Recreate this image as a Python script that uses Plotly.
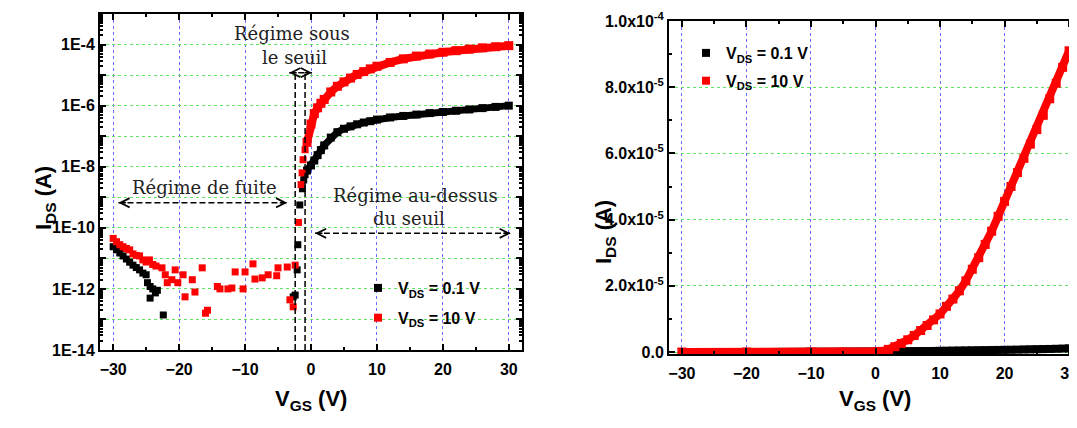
import plotly.graph_objects as go

W, H = 1077, 428
OFF = 8  # page body margin of the rendered html

# ---------------- Left panel (log scale) ----------------
# leakage + subthreshold points, VDS = 0.1 V
vgs_leak_01 = [-30, -29.5, -29, -28.5, -28, -27.5, -27, -26.5, -26, -25.5, -25,
               -24.8, -24.4, -24.0, -23.6, -23.3, -24.4, -22.4]
ids_leak_01 = [2.4e-11, 1.9e-11, 1.5e-11, 1.2e-11, 9.5e-12, 7.5e-12, 6e-12, 5e-12,
               4.2e-12, 3.3e-12, 2.9e-12, 1.6e-12, 1.2e-12, 1.0e-12, 7.4e-13, 9e-13,
               5e-13, 1.4e-13]
vgs_sub_01 = [-2.7, -2.4, -2.1, -2.0, -1.7, -1.3, -1.1, -0.9]
ids_sub_01 = [5.5e-13, 6.3e-13, 4.2e-12, 2.8e-11, 5.6e-10, 1.9e-9, 3.7e-9, 5.5e-9]

# leakage + subthreshold points, VDS = 10 V
vgs_leak_10 = [-30.0, -29.5, -29.0, -28.5, -28.0, -27.5, -27.0, -26.5, -26.0, -25.5,
               -25.0, -24.5, -24.0, -23.5, -22.6, -22.1, -21.8, -21.1, -20.6, -20.2,
               -19.4, -19.1, -18.0, -17.6, -16.5, -16.0, -15.7, -14.2, -13.8, -12.6,
               -12.0, -11.5, -10.3, -10.0, -8.8, -8.5, -7.4, -6.5, -5.2, -5.0,
               -3.6, -3.2, -2.7]
ids_leak_10 = [4.5e-11, 3.5e-11, 2.8e-11, 2.4e-11, 2.1e-11, 1.9e-11, 1.4e-11, 1.25e-11,
               1.2e-11, 8.9e-12, 7.6e-12, 8.9e-12, 6.3e-12, 5.6e-12, 4.9e-12, 2.9e-12,
               1.6e-12, 2.0e-12, 4.2e-12, 1.6e-12, 2.9e-12, 5.5e-13, 2.0e-12, 7.9e-13,
               4.9e-12, 1.6e-13, 2.0e-13, 1.2e-12, 1.0e-12, 1.0e-12, 1.07e-12, 3.6e-12,
               1.0e-12, 3.6e-12, 6.6e-12, 2.1e-12, 2.3e-12, 2.9e-12, 2.7e-12, 4.9e-12,
               5.2e-12, 4.4e-13, 2.6e-13]
vgs_sub_10 = [-2.4, -1.9, -1.5, -1.35, -1.2, -0.9]
ids_sub_10 = [6e-12, 1.5e-10, 2.6e-9, 6.3e-9, 1.7e-8, 3.6e-8]

# above-threshold curves (log panel)
vgs_on = [-0.6, 0, 0.5, 1, 1.5, 2, 3, 4, 5, 6, 7, 8, 9, 10, 12, 14, 16, 18, 20,
          22, 24, 26, 28, 30]
ids_on_01 = [7.5e-9, 1.1e-8, 1.6e-8, 2.4e-8, 3.5e-8, 5e-8, 9e-8, 1.35e-7, 1.75e-7,
             2.1e-7, 2.45e-7, 2.8e-7, 3.1e-7, 3.5e-7, 4.1e-7, 4.6e-7, 5.1e-7, 5.7e-7,
             6.2e-7, 6.8e-7, 7.5e-7, 8.3e-7, 9.1e-7, 1.0e-6]
ids_on_10 = [6.3e-8, 2.5e-7, 5.5e-7, 8.5e-7, 1.2e-6, 1.6e-6, 2.8e-6, 4.3e-6, 6e-6,
             8e-6, 1.05e-5, 1.3e-5, 1.6e-5, 1.95e-5, 2.6e-5, 3.4e-5, 4.2e-5, 4.9e-5,
             5.6e-5, 6.3e-5, 7.1e-5, 7.8e-5, 8.5e-5, 9.2e-5]

# ---------------- Right panel (linear scale) ----------------
vgs_lin = [-30, -20, -10, -5, 0, 1, 2, 3, 4, 5, 6, 7, 8, 9, 10, 11, 12, 13, 14, 15,
           16, 17, 18, 19, 20, 21, 22, 23, 24, 25, 26, 27, 28, 29, 30]
ids_lin_10 = [0, 0, 0, 0, 0, 0.2e-6, 0.8e-6, 1.6e-6, 2.6e-6, 3.7e-6, 5.0e-6, 6.5e-6,
              8.0e-6, 9.7e-6, 1.15e-5, 1.38e-5, 1.6e-5, 1.85e-5, 2.15e-5, 2.5e-5,
              2.85e-5, 3.25e-5, 3.65e-5, 4.1e-5, 4.55e-5, 5.0e-5, 5.42e-5, 5.85e-5,
              6.28e-5, 6.72e-5, 7.15e-5, 7.65e-5, 8.12e-5, 8.6e-5, 9.1e-5]
ids_lin_01 = [0, 0, 0, 0, 0, 2.4e-8, 5e-8, 9e-8, 1.35e-7, 1.75e-7, 2.1e-7, 2.5e-7,
              2.8e-7, 3.2e-7, 3.6e-7, 3.9e-7, 4.2e-7, 4.5e-7, 4.8e-7, 5.1e-7, 5.4e-7,
              5.7e-7, 6.0e-7, 6.3e-7, 6.6e-7, 6.9e-7, 7.2e-7, 7.6e-7, 8.0e-7, 8.4e-7,
              8.8e-7, 9.3e-7, 9.8e-7, 1.03e-6, 1.1e-6]

# tick labels
x_ticks = [-30, -20, -10, 0, 10, 20, 30]
log_tickvals = [10.0 ** e for e in range(-14, -2)]
log_ticktext = ["1E-14", "", "1E-12", "", "1E-10", "", "1E-8", "", "1E-6", "", "1E-4", ""]
lin_tickvals = [0, 2e-5, 4e-5, 6e-5, 8e-5, 1e-4]
lin_ticktext = ["0.0", "2.0x10<sup>-5</sup>", "4.0x10<sup>-5</sup>", "6.0x10<sup>-5</sup>",
                "8.0x10<sup>-5</sup>", "1.0x10<sup>-4</sup>"]
legend_labels = ["V<sub>DS</sub> = 0.1 V", "V<sub>DS</sub> = 10 V"]

BLACK = "#000000"
RED = "#ff0000"
GRID_X = "#6a6aff"
GRID_Y = "#5ee65e"
TICKFONT = dict(family="Liberation Sans", size=16, color="black", weight="bold")


def px(x):
    return (x - OFF) / W


def py(y):
    return 1 - (y - OFF) / H


fig = go.Figure()

# left panel traces
fig.add_trace(go.Scatter(x=vgs_leak_01 + vgs_sub_01, y=ids_leak_01 + ids_sub_01,
                         mode="markers", marker=dict(symbol="square", size=7, color=BLACK),
                         showlegend=False, xaxis="x", yaxis="y"))
fig.add_trace(go.Scatter(x=vgs_on, y=ids_on_01, mode="lines+markers",
                         line=dict(color=BLACK, width=7),
                         marker=dict(symbol="square", size=8, color=BLACK),
                         showlegend=False, xaxis="x", yaxis="y"))
fig.add_trace(go.Scatter(x=vgs_leak_10 + vgs_sub_10, y=ids_leak_10 + ids_sub_10,
                         mode="markers", marker=dict(symbol="square", size=7, color=RED),
                         showlegend=False, xaxis="x", yaxis="y"))
fig.add_trace(go.Scatter(x=vgs_on, y=ids_on_10, mode="lines+markers",
                         line=dict(color=RED, width=8),
                         marker=dict(symbol="square", size=9, color=RED),
                         showlegend=False, xaxis="x", yaxis="y"))

# right panel traces
fig.add_trace(go.Scatter(x=vgs_lin, y=ids_lin_01, mode="lines+markers",
                         line=dict(color=BLACK, width=7),
                         marker=dict(symbol="square", size=8, color=BLACK),
                         showlegend=False, xaxis="x2", yaxis="y2"))
fig.add_trace(go.Scatter(x=vgs_lin, y=ids_lin_10, mode="lines+markers",
                         line=dict(color=RED, width=8),
                         marker=dict(symbol="square", size=9, color=RED),
                         showlegend=False, xaxis="x2", yaxis="y2"))

# legend entries
for lg, ax, ay in (("legend", "x", "y"), ("legend2", "x2", "y2")):
    for i, (lab, col) in enumerate(zip(legend_labels, (BLACK, RED))):
        fig.add_trace(go.Scatter(x=[None], y=[None], mode="markers", name=lab,
                                 legendgroup=f"{lg}_{i}",
                                 marker=dict(symbol="square", size=8, color=col),
                                 legend=lg, xaxis=ax, yaxis=ay))

axis_common = dict(showline=True, linewidth=2, linecolor="black", mirror="allticks",
                   ticks="inside", ticklen=6, tickwidth=2, tickcolor="black",
                   zeroline=False, tickfont=TICKFONT, showgrid=True, gridwidth=1,
                   griddash="dot", automargin=False)
LEGFONT = dict(family="Liberation Sans", size=16, color="black", weight="bold")

fig.update_layout(
    width=W, height=H, margin=dict(l=0, r=0, t=0, b=0, autoexpand=False),
    paper_bgcolor="white", plot_bgcolor="white",
    xaxis=dict(domain=[px(100), px(522)], range=[-32, 32], tickvals=x_ticks,
               gridcolor=GRID_X, ticklabelstandoff=4,
               minor=dict(dtick=5, tick0=0, ticks="inside", ticklen=3, tickwidth=2,
                          tickcolor="black", showgrid=False),
               anchor="y", **axis_common),
    yaxis=dict(domain=[py(350), py(14)], type="log", range=[-14, -3],
               tickvals=log_tickvals, ticktext=log_ticktext, gridcolor=GRID_Y,
               minor=dict(tickvals=[k * 10.0 ** e for e in range(-14, -3) for k in range(2, 10)],
                          ticks="inside", ticklen=3, tickwidth=1.5, tickcolor="black",
                          showgrid=False),
               anchor="x", **axis_common),
    xaxis2=dict(domain=[px(669), px(1082)], range=[-32, 32], tickvals=x_ticks,
                gridcolor=GRID_X, ticklabelstandoff=4,
                minor=dict(dtick=5, tick0=0, ticks="inside", ticklen=3, tickwidth=2,
                           tickcolor="black", showgrid=False),
                anchor="y2", **axis_common),
    yaxis2=dict(domain=[py(354), py(21)], range=[-6e-7, 1e-4],
                tickvals=lin_tickvals, ticktext=lin_ticktext, gridcolor=GRID_Y,
                minor=dict(dtick=1e-5, tick0=0, ticks="inside", ticklen=3, tickwidth=2,
                           tickcolor="black", showgrid=False),
                anchor="x2", **axis_common),
    legend=dict(x=px(358), y=py(271), xanchor="left", yanchor="top",
                bgcolor="rgba(0,0,0,0)", font=LEGFONT, itemwidth=30, tracegroupgap=6),
    legend2=dict(x=px(686), y=py(36), xanchor="left", yanchor="top",
                 bgcolor="rgba(0,0,0,0)", font=LEGFONT, itemwidth=30, tracegroupgap=4),
)

# axis titles
TITLEFONT = dict(family="Liberation Sans", size=22, color="black", weight="bold")
for txt, xx, yy, ang in (("I<sub>DS</sub> (A)", 45, 198, -90),
                         ("I<sub>DS</sub> (A)", 605, 232, -90),
                         ("V<sub>GS</sub> (V)", 311, 400, 0),
                         ("V<sub>GS</sub> (V)", 875, 400, 0)):
    fig.add_annotation(x=px(xx), y=py(yy), xref="paper", yref="paper", text=txt,
                       textangle=ang, showarrow=False, font=TITLEFONT,
                       xanchor="center", yanchor="middle")

# region labels
SERIF = dict(family="DejaVu Serif", size=18, color="#222222")
for txt, xx, yy in (("Régime sous", 292, 34), ("le seuil", 294, 57),
                    ("Régime de fuite", 204, 188),
                    ("Régime au-dessus", 415, 195), ("du seuil", 409, 218)):
    fig.add_annotation(x=px(xx), y=py(yy), xref="paper", yref="paper", text=txt,
                       showarrow=False, font=SERIF, xanchor="center", yanchor="middle")

# dashed boundaries of the subthreshold regime (shape coords on log axis are data values)
DASH = dict(color="black", width=1.5, dash="6px,3px")
for xv in (-2.4, -0.9):
    fig.add_shape(type="line", xref="x", yref="y", x0=xv, x1=xv,
                  y0=1e-14, y1=10 ** -4.9, line=DASH)


def double_arrow(xa, xb, ylog):
    fig.add_shape(type="line", xref="x", yref="y", x0=xa, x1=xb,
                  y0=10 ** ylog, y1=10 ** ylog, line=DASH)
    for xt, off in ((xa, 9), (xb, -9)):
        fig.add_annotation(x=xt, y=ylog, xref="x", yref="y", ax=off, ay=0, text="",
                           showarrow=True, arrowhead=5, arrowsize=1.2, arrowwidth=1.5,
                           arrowcolor="black")


double_arrow(-29.2, -3.6, -9.18)
double_arrow(0.6, 30.3, -10.18)
double_arrow(-3.3, 0.15, -4.92)

fig.write_html("out.html")
